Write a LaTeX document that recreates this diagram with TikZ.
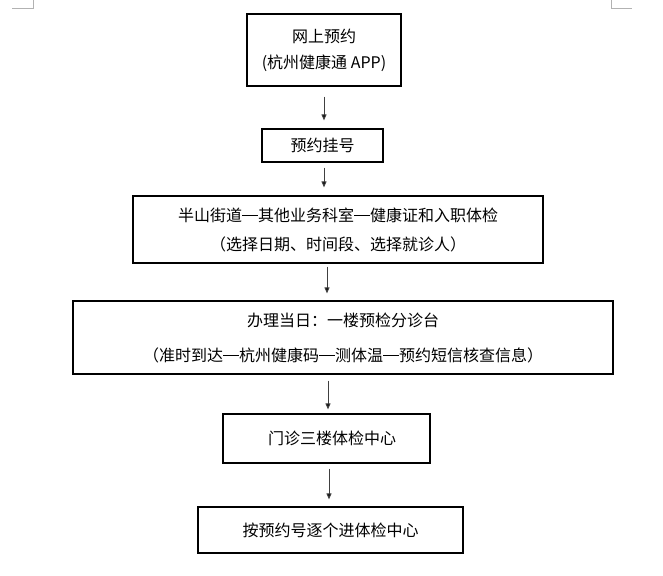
\documentclass[tikz,border=0pt]{standalone}
\usepackage{fontspec}
\setmainfont{Noto Sans CJK SC}
\usetikzlibrary{arrows.meta}
\newcommand\longdash{\rule[5.6pt]{16pt}{0.8pt}}
\begin{document}
\begin{tikzpicture}[x=1pt,y=-1pt,
  box/.style={draw=black, line width=1.2pt, inner sep=0pt, align=center, font=\fontsize{16}{26}\selectfont},
  arr/.style={draw=black!75, line width=1pt, -{Triangle[width=5pt,length=6pt,fill=black]}},
  cornermark/.style={draw=black!30, line width=0.8pt}
]
\useasboundingbox (0,0) rectangle (663,575);
\draw[cornermark] (12,8) -- (33,8) -- (33,0);
\draw[cornermark] (611,0) -- (611,8) -- (632,8);

\node[box, minimum width=154pt, minimum height=72pt] (b1) at (324,50) {网上预约\\(杭州健康通 APP)};
\node[box, minimum width=121pt, minimum height=33pt] (b2) at (322.5,145.5) {预约挂号};
\node[box, minimum width=410pt, minimum height=67pt, font=\fontsize{16}{29}\selectfont] (b3) at (338,229.5) {半山街道\longdash 其他业务科室\longdash 健康证和入职体检\\（选择日期、时间段、选择就诊人）};
\node[box, minimum width=540pt, minimum height=73pt, font=\fontsize{16}{35}\selectfont] (b4) at (343,337.5) {办理当日：一楼预检分诊台\\（准时到达\longdash 杭州健康码\longdash 测体温\longdash 预约短信核查信息）};
\node[box, minimum width=207pt, minimum height=49pt] (b5) at (326.5,438.5) {\hspace*{11pt}门诊三楼体检中心};
\node[box, minimum width=265pt, minimum height=46pt] (b6) at (330.5,530) {按预约号逐个进体检中心};

\coordinate (x1) at (324,0);
\coordinate (x2) at (324,0);
\coordinate (x3) at (327,0);
\coordinate (x4) at (328,0);
\coordinate (x5) at (329,0);
\draw[arr, shorten <=10pt, shorten >=8pt] (b1.south -| x1) -- (b2.north -| x1);
\draw[arr, shorten <=5pt, shorten >=8pt] (b2.south -| x2) -- (b3.north -| x2);
\draw[arr, shorten <=3pt, shorten >=7pt] (b3.south -| x3) -- (b4.north -| x3);
\draw[arr, shorten <=6pt, shorten >=4pt] (b4.south -| x4) -- (b5.north -| x4);
\draw[arr, shorten <=5pt, shorten >=7pt] (b5.south -| x5) -- (b6.north -| x5);
\end{tikzpicture}
\end{document}
